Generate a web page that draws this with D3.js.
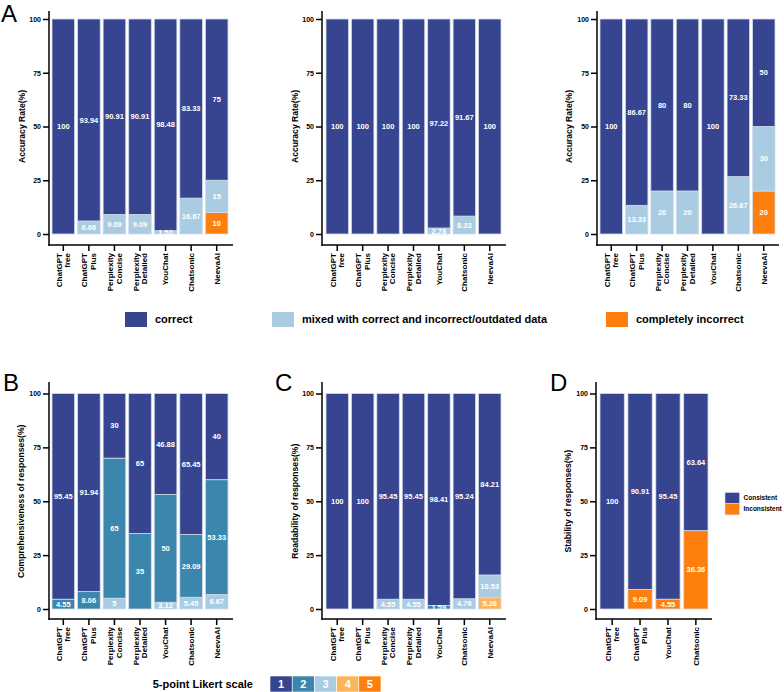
<!DOCTYPE html>
<html>
<head>
<meta charset="utf-8">
<script src="https://cdn.jsdelivr.net/npm/d3@7"></script>
<style>
  html, body { margin: 0; padding: 0; background: #fff; }
  svg { display: block; font-family: "Liberation Sans", Arial, sans-serif; }
</style>
</head>
<body>
<svg id="chart" width="784" height="692"></svg>
<script>
// ---------- DATA ----------
const catsAll = ["ChatGPT\nfree", "ChatGPT\nPlus", "Perplexity\nConcise", "Perplexity\nDetailed", "YouChat", "Chatsonic", "NeevaAI"];
const catsD = ["ChatGPT\nfree", "ChatGPT\nPlus", "YouChat", "Chatsonic"];
const yTicks = [0, 25, 50, 75, 100];

// Panel A (three sub-panels): correct / mixed / completely incorrect
const a1Correct   = [100, 93.94, 90.91, 90.91, 98.48, 83.33, 75];
const a1Mixed     = [0, 6.06, 9.09, 9.09, 1.52, 16.67, 15];
const a1Incorrect = [0, 0, 0, 0, 0, 0, 10];

const a2Correct   = [100, 100, 100, 100, 97.22, 91.67, 100];
const a2Mixed     = [0, 0, 0, 0, 2.78, 8.33, 0];
const a2Incorrect = [0, 0, 0, 0, 0, 0, 0];

const a3Correct   = [100, 86.67, 80, 80, 100, 73.33, 50];
const a3Mixed     = [0, 13.33, 20, 20, 0, 26.67, 30];
const a3Incorrect = [0, 0, 0, 0, 0, 0, 20];

// Panel B: comprehensiveness, Likert 1..5
const bL1 = [95.45, 91.94, 30, 65, 46.88, 65.45, 40];
const bL2 = [4.55, 8.06, 65, 35, 50, 29.09, 53.33];
const bL3 = [0, 0, 5, 0, 3.12, 5.45, 6.67];
const bL4 = [0, 0, 0, 0, 0, 0, 0];
const bL5 = [0, 0, 0, 0, 0, 0, 0];

// Panel C: readability, Likert 1..5
const cL1 = [100, 100, 95.45, 95.45, 98.41, 95.24, 84.21];
const cL2 = [0, 0, 0, 0, 1.59, 0, 0];
const cL3 = [0, 0, 4.55, 4.55, 0, 4.76, 10.53];
const cL4 = [0, 0, 0, 0, 0, 0, 5.26];
const cL5 = [0, 0, 0, 0, 0, 0, 0];

// Panel D: stability
const dConsistent   = [100, 90.91, 95.45, 63.64];
const dInconsistent = [0, 9.09, 4.55, 36.36];

const accLegend = ["correct", "mixed with correct and incorrect/outdated data", "completely incorrect"];
const likertLabels = ["1", "2", "3", "4", "5"];
const stabLegend = ["Consistent", "Inconsistent"];

// ---------- STYLE ----------
const C_DARK = "#374590";
const C_LIGHT = "#A9CCE3";
const C_ORANGE = "#FF7F0E";
const C_TEAL = "#3A86AC";
const C_LORANGE = "#FDB55A";
const likertColors = [C_DARK, C_TEAL, C_LIGHT, C_LORANGE, C_ORANGE];
const FONT = "'Liberation Sans', Arial, sans-serif";

const svg = d3.select("#chart");

function panel(o) {
  const g = svg.append("g");
  const y = d3.scaleLinear().domain([0, 100]).range([o.y0, o.yTop]);
  const x = d3.scaleBand().domain(o.cats).range([o.bx0, o.bx1]).paddingInner(o.pad).paddingOuter(0);

  const keys = o.series.map((s, i) => "s" + i);
  const rows = o.cats.map((c, i) => {
    const r = { cat: c };
    o.series.forEach((s, k) => r["s" + k] = s.values[i]);
    return r;
  });
  const stacked = d3.stack().keys(keys)(rows);

  stacked.forEach((layer, k) => {
    const color = o.series[k].color;
    layer.forEach(d => {
      const v = d[1] - d[0];
      if (v <= 0) return;
      g.append("rect")
        .attr("x", x(d.data.cat))
        .attr("y", y(d[1]))
        .attr("width", x.bandwidth())
        .attr("height", y(d[0]) - y(d[1]))
        .attr("fill", color)
        .attr("stroke", "#d4dcea")
        .attr("stroke-width", 0.8);
    });
  });
  stacked.forEach((layer, k) => {
    layer.forEach(d => {
      const v = d.data[layer.key];
      if (v <= 0) return;
      g.append("text")
        .attr("x", x(d.data.cat) + x.bandwidth() / 2)
        .attr("y", (y(d[0]) + y(d[1])) / 2)
        .attr("dy", "0.35em")
        .attr("text-anchor", "middle")
        .attr("fill", "#fff")
        .attr("font-weight", "bold")
        .attr("font-size", "7.5px")
        .attr("font-family", FONT)
        .text(String(v));
    });
  });

  // y axis
  const ya = g.append("g").attr("transform", `translate(${o.ax},0)`)
    .call(d3.axisLeft(y).tickValues(yTicks).tickSize(6).tickPadding(2));
  ya.select(".domain").remove();
  ya.selectAll(".tick line").attr("stroke", "#000").attr("stroke-width", 1.5);
  ya.selectAll(".tick text").attr("font-size", "7px").attr("font-weight", "bold")
    .attr("font-family", FONT).attr("fill", "#000");
  g.append("line").attr("x1", o.ax).attr("x2", o.ax).attr("y1", o.axisTop).attr("y2", o.xAxisY + 0.75)
    .attr("stroke", "#000").attr("stroke-width", 1.5);

  // x axis
  g.append("line").attr("x1", o.ax - 0.75).attr("x2", o.xEnd).attr("y1", o.xAxisY).attr("y2", o.xAxisY)
    .attr("stroke", "#000").attr("stroke-width", 1.5);
  o.cats.forEach(c => {
    const cx = x(c) + x.bandwidth() / 2;
    g.append("line").attr("x1", cx).attr("x2", cx).attr("y1", o.xAxisY).attr("y2", o.xAxisY + 6)
      .attr("stroke", "#000").attr("stroke-width", 1.5);
    const lines = c.split("\n");
    const t = g.append("text")
      .attr("transform", `translate(${cx},${o.xAxisY + 8}) rotate(-90)`)
      .attr("text-anchor", "end")
      .attr("font-size", "8px")
      .attr("font-weight", "bold")
      .attr("font-family", FONT)
      .attr("fill", "#000");
    const L = 8.6;
    lines.forEach((ln, i) => {
      t.append("tspan").attr("x", 0)
        .attr("y", (i - (lines.length - 1) / 2) * L)
        .attr("dy", "0.35em")
        .text(ln);
    });
  });

  // y title
  g.append("text")
    .attr("transform", `translate(${o.titleX},${(o.y0 + o.yTop) / 2}) rotate(-90)`)
    .attr("text-anchor", "middle")
    .attr("dy", "0.35em")
    .attr("font-size", "8.6px")
    .attr("font-weight", "bold")
    .attr("font-family", FONT)
    .text(o.yTitle);
}

const accSeries = (cor, mix, inc) => [
  { values: inc, color: C_ORANGE },
  { values: mix, color: C_LIGHT },
  { values: cor, color: C_DARK }
];
const likertSeries = (l1, l2, l3, l4, l5) => [
  { values: l5, color: likertColors[4] },
  { values: l4, color: likertColors[3] },
  { values: l3, color: likertColors[2] },
  { values: l2, color: likertColors[1] },
  { values: l1, color: likertColors[0] }
];

const topA = { yTop: 19, y0: 234, xAxisY: 245, axisTop: 11, pad: 0.115 };
const topB = { yTop: 393.5, y0: 609, xAxisY: 619, axisTop: 382, pad: 0.115 };

panel(Object.assign({}, topA, { ax: 49, bx0: 52, bx1: 228, xEnd: 233, titleX: 22, cats: catsAll,
  series: accSeries(a1Correct, a1Mixed, a1Incorrect), yTitle: "Accuracy Rate(%)" }));
panel(Object.assign({}, topA, { ax: 322, bx0: 326, bx1: 501, xEnd: 506, titleX: 295, cats: catsAll,
  series: accSeries(a2Correct, a2Mixed, a2Incorrect), yTitle: "Accuracy Rate(%)" }));
panel(Object.assign({}, topA, { ax: 597, bx0: 600, bx1: 775, xEnd: 779, titleX: 569, cats: catsAll,
  series: accSeries(a3Correct, a3Mixed, a3Incorrect), yTitle: "Accuracy Rate(%)" }));

panel(Object.assign({}, topB, { ax: 49, bx0: 52, bx1: 228, xEnd: 233, titleX: 21, cats: catsAll,
  series: likertSeries(bL1, bL2, bL3, bL4, bL5), yTitle: "Comprehensiveness of responses(%)" }));
panel(Object.assign({}, topB, { ax: 322, bx0: 326, bx1: 501, xEnd: 506, titleX: 295, cats: catsAll,
  series: likertSeries(cL1, cL2, cL3, cL4, cL5), yTitle: "Readability of responses(%)" }));
panel(Object.assign({}, topB, { ax: 596, bx0: 600, bx1: 708, xEnd: 712, titleX: 568, cats: catsD, pad: 0.13,
  series: [{ values: dInconsistent, color: C_ORANGE }, { values: dConsistent, color: C_DARK }],
  yTitle: "Stability of responses(%)" }));

// panel letters
[["A", 1, 22], ["B", 3, 391], ["C", 275, 391], ["D", 550, 391]].forEach(([t, lx, ly]) => {
  svg.append("text").attr("x", lx).attr("y", ly).attr("font-size", "24px")
    .attr("font-family", FONT).text(t);
});

// accuracy legend
const accColors = [C_DARK, C_LIGHT, C_ORANGE];
const accX = [125, 272, 606];
accLegend.forEach((t, i) => {
  svg.append("rect").attr("x", accX[i]).attr("y", 312).attr("width", 22).attr("height", 15)
    .attr("fill", accColors[i]);
  svg.append("text").attr("x", accX[i] + 30).attr("y", 319.5).attr("dy", "0.35em")
    .attr("font-size", "11px").attr("font-weight", "bold").attr("font-family", FONT).text(t);
});

// likert legend
svg.append("text").attr("x", 253).attr("y", 684).attr("dy", "0.35em").attr("text-anchor", "end")
  .attr("font-size", "11px").attr("font-weight", "bold").attr("font-family", FONT).text("5-point Likert scale");
likertLabels.forEach((t, i) => {
  const lx = 270 + i * 22.2;
  svg.append("rect").attr("x", lx).attr("y", 676).attr("width", 22.2).attr("height", 16)
    .attr("fill", likertColors[i]).attr("stroke", "#fff").attr("stroke-width", 0.6);
  svg.append("text").attr("x", lx + 11.1).attr("y", 684).attr("dy", "0.35em").attr("text-anchor", "middle")
    .attr("fill", "#fff").attr("font-size", "11px").attr("font-weight", "bold").attr("font-family", FONT).text(t);
});

// stability legend
const stabColors = [C_DARK, C_ORANGE];
stabLegend.forEach((t, i) => {
  svg.append("rect").attr("x", 725).attr("y", 492.5 + i * 11.2).attr("width", 14.5).attr("height", 11.2)
    .attr("fill", stabColors[i]).attr("stroke", "#d4dcea").attr("stroke-width", 0.6);
  svg.append("text").attr("x", 743.5).attr("y", 498 + i * 11.2).attr("dy", "0.35em")
    .attr("font-size", "6.5px").attr("font-weight", "bold").attr("font-family", FONT).text(t);
});
</script>
</body>
</html>
